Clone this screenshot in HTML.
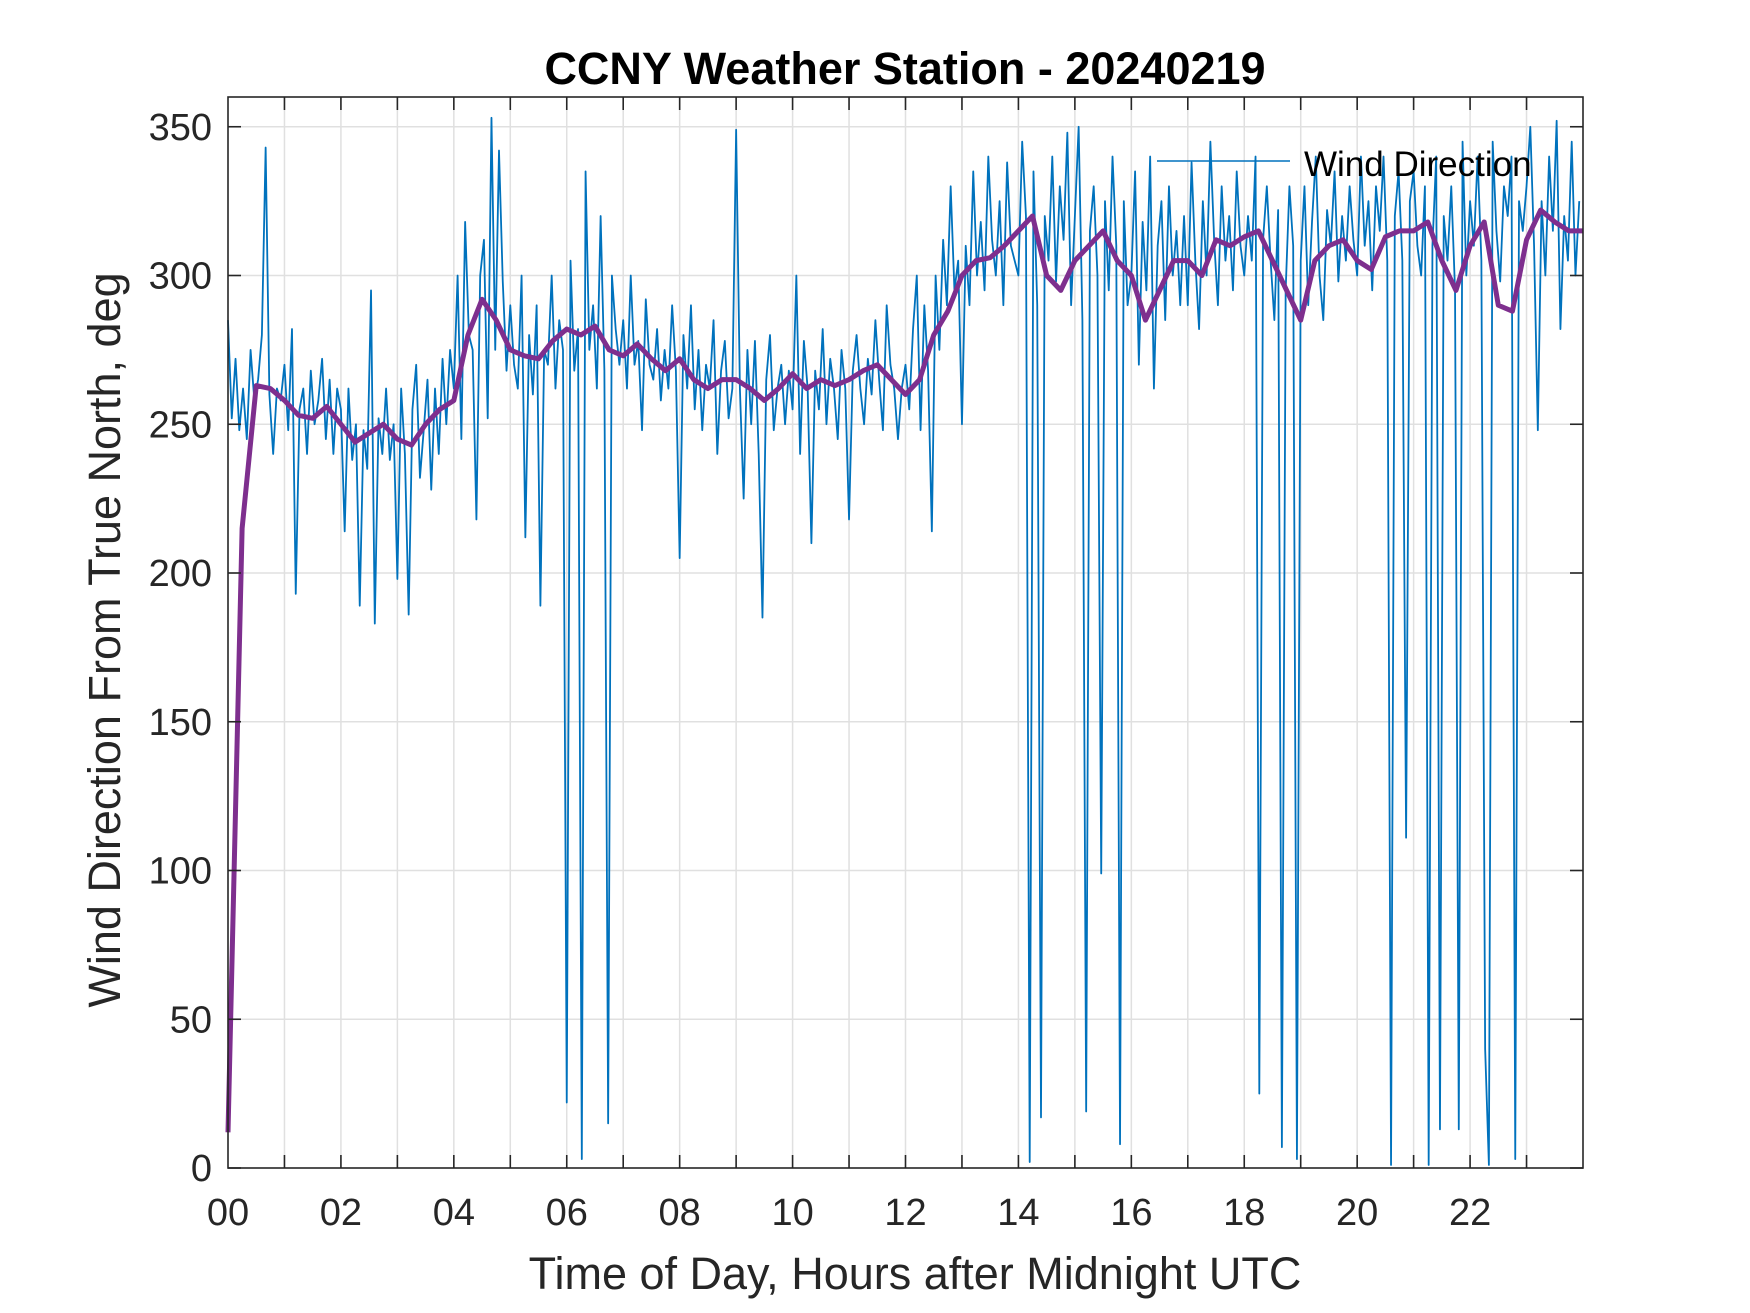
<!DOCTYPE html>
<html><head><meta charset="utf-8"><style>
html,body{margin:0;padding:0;background:#fff;}
svg{display:block;font-family:"Liberation Sans",Arial,sans-serif;}
</style></head><body>
<svg id="chart" width="1750" height="1313" viewBox="0 0 1750 1313" xmlns="http://www.w3.org/2000/svg">
<rect width="1750" height="1313" fill="#fff"/>
<g id="grid"></g>
<g id="plot"></g>
<g id="axes"></g>
<text x="905" y="84" text-anchor="middle" font-size="45" font-weight="bold" fill="#000">CCNY Weather Station - 20240219</text>
<text x="915" y="1289" text-anchor="middle" font-size="45" fill="#262626">Time of Day, Hours after Midnight UTC</text>
<text transform="translate(120,640) rotate(-90)" text-anchor="middle" font-size="45" fill="#262626">Wind Direction From True North, deg</text>
<g>
<line x1="1157" y1="161" x2="1290" y2="161" stroke="#0072BD" stroke-width="1.5"/>
<text x="1304" y="176" font-size="35" fill="#000">Wind Direction</text>
</g>
</svg>
<script>
const hourTickLabels = ["00","02","04","06","08","10","12","14","16","18","20","22"];
const degTickLabels = [0,50,100,150,200,250,300,350];
const windDir = [
285,252,272,248,262,245,275,258,265,280,343,260,240,262,258,
270,248,282,193,255,262,240,268,250,258,272,245,265,240,262,
255,214,262,238,250,189,248,235,295,183,252,240,262,238,250,
198,262,240,186,255,270,232,248,265,228,262,240,272,250,275,
262,300,245,318,280,275,218,300,312,252,353,275,342,298,268,
290,270,262,300,212,280,260,290,189,275,270,300,262,285,275,
22,305,268,282,3,335,275,290,262,320,268,15,300,282,270,
285,262,300,270,278,248,292,270,265,282,258,275,262,290,268,
205,280,262,290,255,275,248,270,262,285,240,268,278,252,262,
349,262,225,275,250,278,240,185,265,280,248,262,270,250,268,
255,300,240,278,262,210,268,255,282,250,272,262,245,275,262,
218,268,280,262,250,272,260,285,265,248,290,270,262,245,262,
270,255,282,300,248,290,268,214,300,275,312,290,330,295,305,
250,310,290,335,300,318,295,340,312,300,325,290,338,310,305,
300,345,320,2,335,290,17,320,305,340,298,330,312,348,290,
320,350,285,19,315,330,300,99,325,295,340,310,8,325,290,
300,335,270,318,295,340,262,310,325,285,330,300,315,290,320,
290,338,305,282,325,300,345,312,290,330,305,320,295,335,310,
300,320,305,340,25,312,330,305,285,322,7,295,330,310,3,
305,330,290,318,340,300,285,322,310,335,298,320,305,330,312,
300,340,310,325,295,330,315,340,305,1,320,335,305,111,325,
335,310,300,330,1,310,340,13,320,305,330,295,13,345,300,
325,310,340,305,40,1,345,315,298,330,320,340,3,325,315,
330,350,310,248,325,300,340,315,352,282,320,305,345,300,325
];
const windAvg = [
12,215,263,262, 258,253,252,256, 250,244,247,250, 245,243,250,255,
258,280,292,285, 275,273,272,278, 282,280,283,275, 273,277,272,268,
272,265,262,265, 265,262,258,262, 267,262,265,263, 265,268,270,265,
260,265,280,288, 300,305,306,310, 315,320,300,295, 305,310,315,305,
300,285,295,305, 305,300,312,310, 313,315,305,295, 285,305,310,312,
305,302,313,315, 315,318,305,295, 310,318,290,288, 312,322,318,315, 315
];
const NS='http://www.w3.org/2000/svg';
const X0=228,X1=1583,Y0=1168,Y1=97;
const xs=h=>X0+(h/24)*(X1-X0);
const ys=d=>Y0-(d/360)*(Y0-Y1);
function mk(tag,attrs,parent){const e=document.createElementNS(NS,tag);for(const k in attrs)e.setAttribute(k,attrs[k]);parent.appendChild(e);return e;}
const grid=document.getElementById('grid'),plot=document.getElementById('plot'),axes=document.getElementById('axes');
for(let h=1;h<24;h++){const l=mk('line',{x1:xs(h),x2:xs(h),y1:Y1,y2:Y0,stroke:'#e0e0e0','stroke-width':1.5},grid);

}
degTickLabels.forEach(d=>{if(d===0)return;const l=mk('line',{x1:X0,x2:X1,y1:ys(d),y2:ys(d),stroke:'#e0e0e0','stroke-width':1.5},grid);

});
let p='';windDir.forEach((v,i)=>{p+=(i?'L':'M')+xs(i*24/windDir.length).toFixed(2)+','+ys(v).toFixed(2);});
const raw=mk('path',{d:p,fill:'none',stroke:'#0072BD','stroke-width':1.8,'stroke-linejoin':'round'},plot);


let q='';windAvg.forEach((v,i)=>{q+=(i?'L':'M')+xs(i*24/(windAvg.length-1)).toFixed(2)+','+ys(v).toFixed(2);});
const avg=mk('path',{d:q,fill:'none',stroke:'#7E2F8E','stroke-width':5,'stroke-linejoin':'round'},plot);


const box=mk('rect',{x:X0,y:Y1,width:X1-X0,height:Y0-Y1,fill:'none',stroke:'#262626','stroke-width':1.6},axes);


for(let h=1;h<24;h++){[[Y0,Y0-13],[Y1,Y1+13]].forEach(a=>{const t=mk('line',{x1:xs(h),x2:xs(h),y1:a[0],y2:a[1],stroke:'#262626','stroke-width':1.6},axes);

});}
hourTickLabels.forEach((s,i)=>{const t=mk('text',{x:xs(i*2),y:1225,'text-anchor':'middle','font-size':38,fill:'#262626'},axes);t.textContent=s;

});
degTickLabels.forEach(d=>{[[X0,X0+13],[X1,X1-13]].forEach(a=>{const t=mk('line',{x1:a[0],x2:a[1],y1:ys(d),y2:ys(d),stroke:'#262626','stroke-width':1.6},axes);

});
const t=mk('text',{x:212,y:ys(d)+13,'text-anchor':'end','font-size':38,fill:'#262626'},axes);t.textContent=d;

});
</script>
</body></html>
